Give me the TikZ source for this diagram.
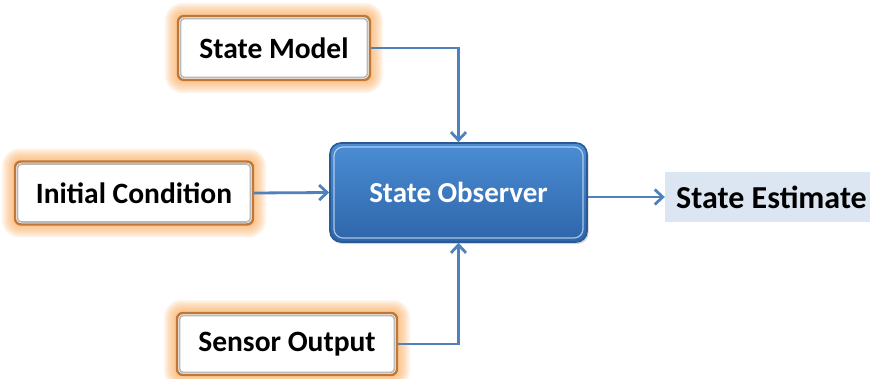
\documentclass[tikz,border=0pt]{standalone}
\usepackage{fontspec}
\setmainfont{Carlito}
\usetikzlibrary{arrows.meta,backgrounds,shadows}
\definecolor{arrowblue}{HTML}{4F81BD}
\definecolor{boxedge}{HTML}{C0773A}
\definecolor{glowcol}{HTML}{F9A550}
\definecolor{obstop}{HTML}{4B8DD4}
\definecolor{obsbot}{HTML}{2E65AA}
\definecolor{obsedge}{HTML}{2A5A94}
\definecolor{estfill}{HTML}{DCE6F2}
\tikzset{
  inbox/.style={fill=white, draw=boxedge, line width=2.4pt, rounded corners=6pt,
    font=\fontsize{29.5}{33}\selectfont\bfseries, text=black,
    path picture={\draw[gray!55, line width=1.6pt, rounded corners=4pt]
      ([shift={(2.5pt,-2.5pt)}]path picture bounding box.north west) rectangle
      ([shift={(-2.5pt,2.5pt)}]path picture bounding box.south east);}},
  observer/.style={draw=obsedge, line width=1.6pt, rounded corners=11pt,
    top color=obstop, bottom color=obsbot, text=white,
    font=\fontsize{29}{33}\selectfont\bfseries,
    drop shadow={shadow xshift=1.5pt, shadow yshift=-2pt, opacity=0.35},
    path picture={\draw[white!70!obstop, line width=1.2pt, rounded corners=9pt, opacity=0.8]
      ([shift={(4pt,-4pt)}]path picture bounding box.north west) rectangle
      ([shift={(-4pt,4pt)}]path picture bounding box.south east);}},
  estimate/.style={fill=estfill, inner sep=0pt, text=black,
    font=\fontsize{32}{36}\selectfont\bfseries},
  arr/.style={draw=arrowblue, line width=2.8pt,
    -{Straight Barb[length=8pt, width=15pt, line width=2.8pt]}}
}
\newcommand{\glowaround}[1]{%
  \foreach \r in {12,10.5,...,1}{%
    \fill[glowcol, opacity=0.11, rounded corners=\r pt+6pt]
      ([shift={(-\r pt,\r pt)}]#1.north west) rectangle
      ([shift={(\r pt,-\r pt)}]#1.south east);}}
\begin{document}
\begin{tikzpicture}[x=1pt, y=-1pt]
  \useasboundingbox (0,0) rectangle (870,379);
  % input boxes
  \node[inbox, minimum width=192pt, minimum height=64pt] (sm) at (274,48) {State Model};
  \node[inbox, minimum width=238pt, minimum height=63pt] (ic) at (134,193) {Initial Condition};
  \node[inbox, minimum width=220pt, minimum height=62pt] (so) at (287,344) {Sensor Output};
  % observer block
  \node[observer, minimum width=257pt, minimum height=99pt] (obs) at (458.5,192.5) {State Observer};
  % result label, text nudged right within its band
  \node[estimate, minimum width=205pt, minimum height=50pt] (se) at (767.5,197) {\hspace*{8pt}State Estimate};
  % soft orange halo behind the input boxes
  \begin{scope}[on background layer]
    \glowaround{sm}
    \glowaround{ic}
    \glowaround{so}
  \end{scope}
  % connectors
  \draw[arr] (sm.east) -| (obs.north);
  \draw[arr] (ic.east) -- (obs.west);
  \draw[arr] (so.east) -| (obs.south);
  \draw[arr] (obs.east |- se.west) -- (se.west);
\end{tikzpicture}
\end{document}
